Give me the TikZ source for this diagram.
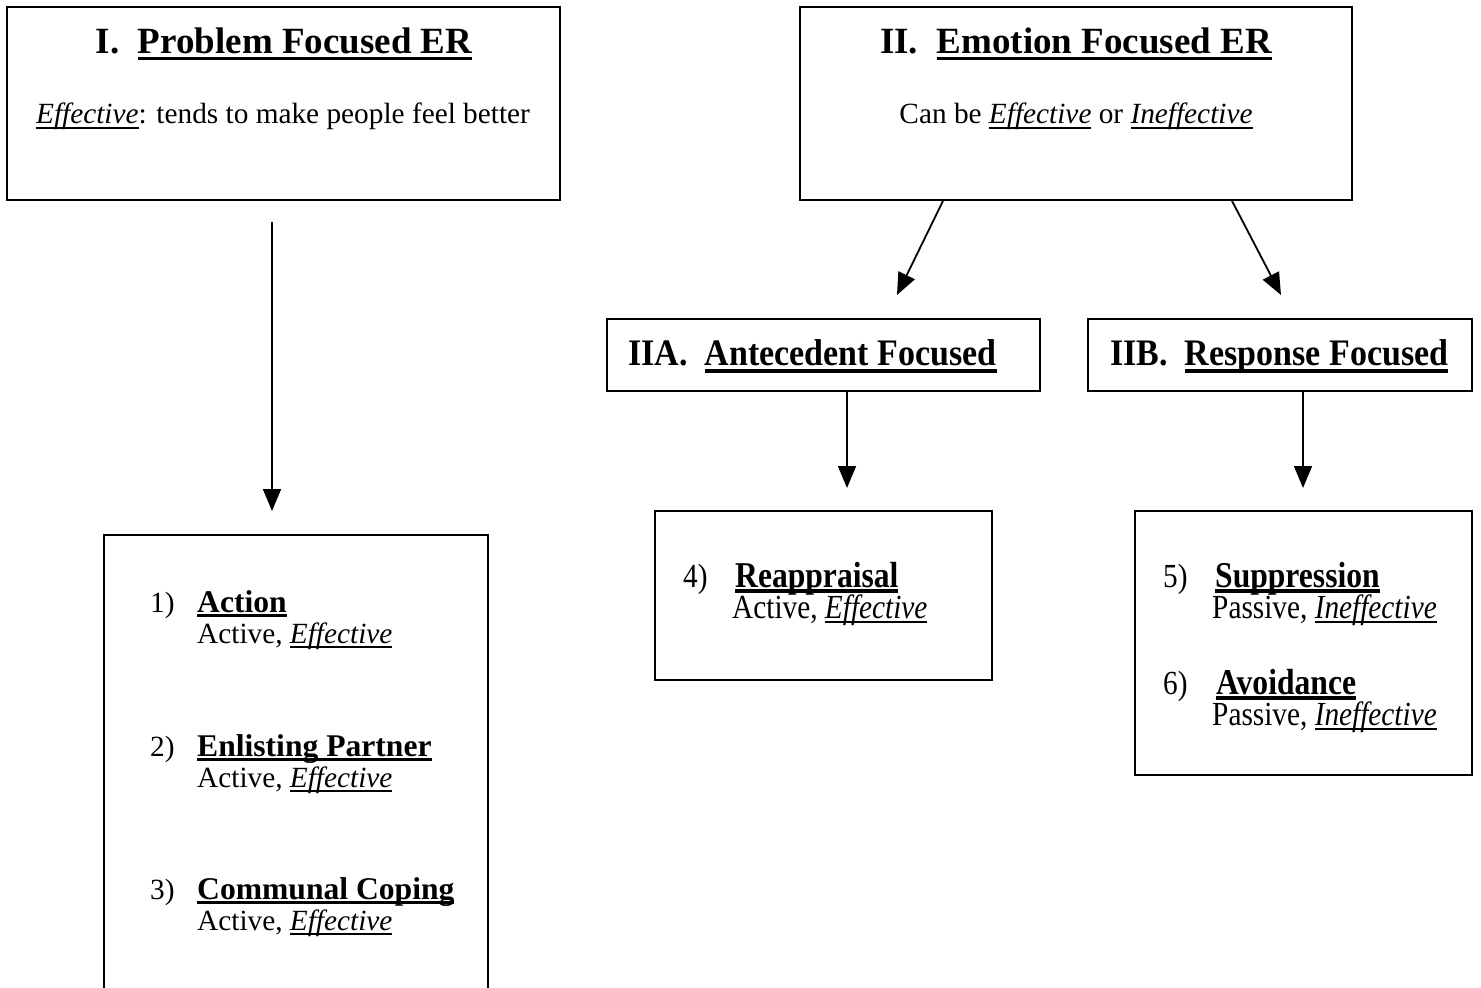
\documentclass[tikz,border=0pt]{standalone}
\usepackage{fontspec}
\setmainfont{Liberation Serif}
\usetikzlibrary{arrows.meta,calc}
\newcommand\uln[3]{\setbox0=\hbox{#3}\leavevmode\rlap{\rule[-#1]{\wd0}{#2}}\box0\relax}
\newcommand\fTitle{\fontsize{37}{42}\selectfont\bfseries}
\newcommand\fSub{\fontsize{29.3}{34}\selectfont}
\newcommand\fHead{\fontsize{31.6}{36}\selectfont\bfseries}
\newcommand\fNum{\fontsize{29.3}{34}\selectfont}
\newcommand\fMid{\fontsize{34}{40}\selectfont\bfseries}
\tikzset{
  box/.style={draw, line width=1.8pt, inner sep=0pt},
  txt/.style={inner sep=0pt, anchor=base west},
  ctxt/.style={inner sep=0pt, anchor=base},
  arr/.style={line width=1.8pt, -{Triangle[length=22pt,width=18pt]}}
}
\begin{document}
\begin{tikzpicture}[x=1pt,y=-1pt]
\useasboundingbox (0,0) rectangle (1481,988);
\clip (0,0) rectangle (1481,988);
% boxes
\node[box, minimum width=553, minimum height=193] (B1) at (283.5,103.5) {};
\node[box, minimum width=552, minimum height=193] (B2) at (1076,103.5) {};
\node[box, minimum width=433, minimum height=72] (BA) at (823.5,355) {};
\node[box, minimum width=384, minimum height=72] (BB) at (1280,355) {};
\node[box, minimum width=337, minimum height=169] (B4) at (823.5,595.5) {};
\node[box, minimum width=337, minimum height=264] (B56) at (1303.5,643) {};
\node[box, minimum width=384, minimum height=480] (BL) at (296,775) {};
% box I
\node[ctxt] (t1) at (284,53) {\fTitle I.\hspace{0.5em}\uln{7pt}{3pt}{Problem Focused ER}};
\node[ctxt] (s1) at (283,123) {\fSub\uln{6pt}{2pt}{\itshape Effective}: tends to make people feel better};
% box II
\node[ctxt] (t2) at (1076,53) {\fTitle II.\hspace{0.5em}\uln{7pt}{3pt}{Emotion Focused ER}};
\node[ctxt] (s2) at (1076,123) {\fSub Can be \uln{6pt}{2pt}{\itshape Effective} or \uln{6pt}{2pt}{\itshape Ineffective}};
% IIA / IIB
\node[txt] (tA) at (628,365) {\scalebox{1}[1.1]{\fMid IIA.\hspace{0.5em}\uln{7pt}{3pt}{Antecedent Focused}}};
\node[txt] (tB) at (1110,365) {\scalebox{1}[1.1]{\fMid IIB.\hspace{0.5em}\uln{7pt}{3pt}{Response Focused}}};
% left items
\node[txt] (n1) at (150,612) {\fNum 1)};
\node[txt] (h1) at (197,612) {\fHead\uln{5pt}{3pt}{Action}};
\node[txt] (d1) at (197,643) {\fSub Active, \uln{4.5pt}{2pt}{\itshape Effective}};
\node[txt] (n2) at (150,756) {\fNum 2)};
\node[txt] (h2) at (197,756) {\fHead\uln{5pt}{3pt}{Enlisting Partner}};
\node[txt] (d2) at (197,787) {\fSub Active, \uln{4.5pt}{2pt}{\itshape Effective}};
\node[txt] (n3) at (150,899) {\fNum 3)};
\node[txt] (h3) at (197,899) {\fHead\uln{5pt}{3pt}{Communal Coping}};
\node[txt] (d3) at (197,930) {\fSub Active, \uln{4.5pt}{2pt}{\itshape Effective}};
% box 4
\node[txt] (n4) at (683,587) {\scalebox{1}[1.15]{\fNum 4)}};
\node[txt] (h4) at (735,587) {\scalebox{1}[1.15]{\fHead\uln{5pt}{3pt}{Reappraisal}}};
\node[txt] (d4) at (732,618) {\scalebox{1}[1.15]{\fSub Active, \uln{4.5pt}{2pt}{\itshape Effective}}};
% box 5/6
\node[txt] (n5) at (1163,587) {\scalebox{1}[1.15]{\fNum 5)}};
\node[txt] (h5) at (1215,587) {\scalebox{1}[1.15]{\fHead\uln{5pt}{3pt}{Suppression}}};
\node[txt] (d5) at (1212,618) {\scalebox{1}[1.15]{\fSub Passive, \uln{4.5pt}{2pt}{\itshape Ineffective}}};
\node[txt] (n6) at (1163,694) {\scalebox{1}[1.15]{\fNum 6)}};
\node[txt] (h6) at (1216,694) {\scalebox{1}[1.15]{\fHead\uln{5pt}{3pt}{Avoidance}}};
\node[txt] (d6) at (1212,725) {\scalebox{1}[1.15]{\fSub Passive, \uln{4.5pt}{2pt}{\itshape Ineffective}}};
% connectors
\coordinate (a1s) at (272,222);
\coordinate (a1e) at (272,511);
\draw[arr] (a1s) -- (a1e);
\coordinate (a2e) at (897,295);
\coordinate (a3e) at (1281,295);
\draw[arr] ($(B2.south)+(-133,0)$) -- (a2e);
\draw[arr] ($(B2.south)+(156,0)$) -- (a3e);
\coordinate (a4e) at (847,488);
\coordinate (a5e) at (1303,488);
\draw[arr] (BA.south -| a4e) -- (a4e);
\draw[arr] (BB.south -| a5e) -- (a5e);
\end{tikzpicture}
\end{document}
